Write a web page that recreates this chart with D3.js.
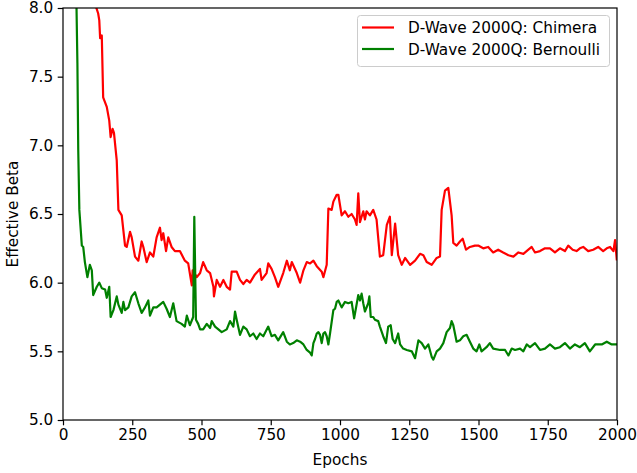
<!DOCTYPE html>
<html>
<head>
<meta charset="utf-8">
<script src="https://cdn.jsdelivr.net/npm/d3@7"></script>
<style>
body{margin:0;background:#fff;}
text{font-family:"DejaVu Sans",sans-serif;}
</style>
</head>
<body>
<svg id="chart" width="637" height="473"></svg>
<script>
const seriesNames = ["D-Wave 2000Q: Chimera", "D-Wave 2000Q: Bernoulli"];
const seriesColors = ["#ff0000", "#008000"];
const xTicks = [0, 250, 500, 750, 1000, 1250, 1500, 1750, 2000];
const yTicks = [5.0, 5.5, 6.0, 6.5, 7.0, 7.5, 8.0];

const chimeraEpochs = [0,60,100,119,127,131,134,140,145,158,167,172,179,184,194,200,212,224,230,242,248,260,272,284,290,302,314,326,338,350,356,362,372,380,392,404,422,440,452,465,468,483,495,506,519,531,543,545,555,567,579,591,603,609,627,639,651,663,675,693,711,717,735,741,753,765,777,795,808,819,826,844,856,868,880,892,904,916,934,940,952,958,970,976,988,994,1006,1018,1030,1042,1054,1060,1066,1072,1084,1090,1096,1108,1120,1132,1144,1156,1169,1180,1187,1199,1210,1223,1235,1253,1271,1289,1301,1313,1331,1349,1361,1367,1379,1391,1403,1409,1421,1433,1443,1455,1469,1487,1499,1517,1535,1553,1571,1589,1608,1626,1644,1662,1680,1692,1704,1722,1740,1758,1776,1794,1812,1824,1840,1854,1866,1878,1896,1914,1932,1950,1963,1975,1987,1993,1999];
const chimeraValues = [10.5,9.2,8.3,8.01,7.96,7.91,7.78,7.80,7.35,7.28,7.18,7.06,7.12,7.09,6.89,6.53,6.49,6.27,6.26,6.37,6.33,6.19,6.16,6.30,6.26,6.15,6.22,6.19,6.33,6.40,6.31,6.36,6.23,6.33,6.26,6.23,6.23,6.16,6.14,5.98,6.09,6.04,6.07,6.15,6.09,6.07,5.97,5.90,6.02,5.97,6.02,5.97,5.95,6.08,6.08,6.02,5.99,6.02,6.00,6.06,6.10,6.02,6.07,6.14,6.10,6.04,5.97,6.07,6.16,6.09,6.15,6.07,6.00,6.09,6.15,6.14,6.16,6.12,6.08,6.04,6.13,6.54,6.53,6.59,6.64,6.64,6.49,6.52,6.48,6.50,6.46,6.42,6.65,6.44,6.52,6.46,6.52,6.49,6.53,6.46,6.19,6.20,6.42,6.48,6.20,6.43,6.20,6.13,6.18,6.13,6.16,6.21,6.20,6.15,6.13,6.18,6.19,6.53,6.67,6.69,6.49,6.29,6.27,6.30,6.32,6.24,6.26,6.27,6.27,6.25,6.26,6.22,6.24,6.22,6.20,6.19,6.22,6.21,6.24,6.26,6.22,6.23,6.25,6.25,6.22,6.25,6.23,6.27,6.24,6.23,6.25,6.26,6.23,6.24,6.26,6.23,6.25,6.26,6.23,6.31,6.17];

const bernoulliEpochs = [0,44,48,52,55,59,68,73,79,88,97,104,109,122,131,140,152,158,167,172,182,194,200,212,218,224,236,248,260,272,284,296,308,314,326,338,350,362,374,386,398,410,428,440,447,458,470,474,480,488,495,506,519,531,537,549,561,573,591,603,615,621,627,639,651,663,675,687,699,711,723,741,753,765,777,795,808,819,831,844,856,868,880,892,898,904,910,916,922,928,934,940,946,952,958,964,976,982,988,994,1006,1018,1030,1042,1051,1066,1072,1078,1084,1090,1102,1106,1111,1120,1126,1138,1144,1156,1166,1174,1183,1190,1199,1210,1217,1228,1241,1259,1271,1283,1295,1307,1319,1331,1337,1349,1361,1373,1385,1397,1403,1409,1421,1433,1445,1457,1469,1481,1493,1503,1511,1529,1541,1553,1578,1596,1608,1620,1632,1650,1662,1674,1686,1704,1722,1740,1758,1776,1794,1812,1830,1848,1866,1884,1902,1921,1945,1963,1981,2000];
const bernoulliValues = [14.0,9.0,8.1,7.6,6.97,6.53,6.27,6.26,6.15,6.04,6.13,6.09,5.91,5.97,6.00,5.96,5.95,5.89,5.97,5.75,5.80,5.90,5.84,5.78,5.86,5.80,5.82,5.90,5.93,5.85,5.78,5.82,5.87,5.76,5.82,5.82,5.84,5.86,5.81,5.75,5.85,5.72,5.70,5.68,5.76,5.69,5.75,6.48,5.73,5.70,5.66,5.66,5.70,5.67,5.72,5.68,5.66,5.64,5.66,5.72,5.68,5.79,5.73,5.62,5.68,5.66,5.61,5.63,5.59,5.63,5.61,5.68,5.61,5.62,5.58,5.64,5.57,5.55,5.56,5.58,5.57,5.55,5.51,5.49,5.47,5.56,5.59,5.63,5.64,5.62,5.56,5.63,5.64,5.61,5.55,5.63,5.80,5.81,5.86,5.87,5.82,5.86,5.85,5.86,5.74,5.91,5.87,5.92,5.85,5.79,5.85,5.90,5.75,5.75,5.73,5.72,5.68,5.61,5.56,5.68,5.69,5.59,5.56,5.63,5.55,5.52,5.51,5.50,5.45,5.58,5.56,5.52,5.55,5.46,5.44,5.50,5.52,5.56,5.64,5.67,5.72,5.69,5.57,5.58,5.61,5.62,5.57,5.52,5.50,5.55,5.50,5.53,5.56,5.52,5.51,5.51,5.47,5.52,5.51,5.52,5.50,5.55,5.53,5.56,5.51,5.52,5.55,5.52,5.53,5.56,5.52,5.55,5.53,5.56,5.50,5.55,5.55,5.57,5.55,5.55];

const FS = 15.3;
const svg = d3.select("#chart");
const m = {left: 63, top: 8, right: 617, bottom: 420};
const x = d3.scaleLinear().domain([0, 2000]).range([m.left, m.right]);
const y = d3.scaleLinear().domain([5, 8]).range([m.bottom, m.top]);

svg.append("defs").append("clipPath").attr("id", "clip")
  .append("rect").attr("x", m.left).attr("y", m.top)
  .attr("width", m.right - m.left).attr("height", m.bottom - m.top);

const series = [
  chimeraEpochs.map((e, i) => [e, chimeraValues[i]]),
  bernoulliEpochs.map((e, i) => [e, bernoulliValues[i]])
];
const line = d3.line().x(d => x(d[0])).y(d => y(d[1]));
const g = svg.append("g").attr("clip-path", "url(#clip)");
series.forEach((s, i) => {
  g.append("path").datum(s).attr("d", line)
    .attr("fill", "none").attr("stroke", seriesColors[i])
    .attr("stroke-width", 2.2).attr("stroke-linejoin", "round").attr("stroke-linecap", "square");
});

// axes
const xAxis = d3.axisBottom(x).tickValues(xTicks).tickFormat(d3.format("d")).tickSize(5.3).tickPadding(4);
const yAxis = d3.axisLeft(y).tickValues(yTicks).tickFormat(d3.format(".1f")).tickSize(5.3).tickPadding(4.5);
const gx = svg.append("g").attr("transform", `translate(0,${m.bottom})`).call(xAxis);
const gy = svg.append("g").attr("transform", `translate(${m.left},0)`).call(yAxis);
[gx, gy].forEach(a => {
  a.select(".domain").remove();
  a.selectAll("line").attr("stroke", "#000").attr("stroke-width", 1.2);
  a.selectAll("text").attr("font-size", FS).attr("fill", "#000").attr("font-family", "DejaVu Sans");
});

// frame
svg.append("rect").attr("x", m.left).attr("y", m.top)
  .attr("width", m.right - m.left).attr("height", m.bottom - m.top)
  .attr("fill", "none").attr("stroke", "#000").attr("stroke-width", 1.2);

// labels
svg.append("text").attr("x", (m.left + m.right) / 2).attr("y", 465)
  .attr("text-anchor", "middle").attr("font-size", FS).text("Epochs");
svg.append("text").attr("transform", `translate(18,${(m.top + m.bottom) / 2}) rotate(-90)`)
  .attr("text-anchor", "middle").attr("font-size", FS).text("Effective Beta");

// legend
const lg = svg.append("g");
lg.append("rect").attr("x", 357.5).attr("y", 15.5).attr("width", 252).attr("height", 51)
  .attr("rx", 3).attr("fill", "#fff").attr("fill-opacity", 0.8)
  .attr("stroke", "#cccccc").attr("stroke-width", 1);
seriesNames.forEach((n, i) => {
  const yy = 27.5 + i * 21.5;
  lg.append("line").attr("x1", 362).attr("x2", 394).attr("y1", yy).attr("y2", yy)
    .attr("stroke", seriesColors[i]).attr("stroke-width", 2.2);
  lg.append("text").attr("x", 408).attr("y", yy).attr("dy", "0.36em")
    .attr("font-size", FS).text(n);
});
</script>
</body>
</html>
